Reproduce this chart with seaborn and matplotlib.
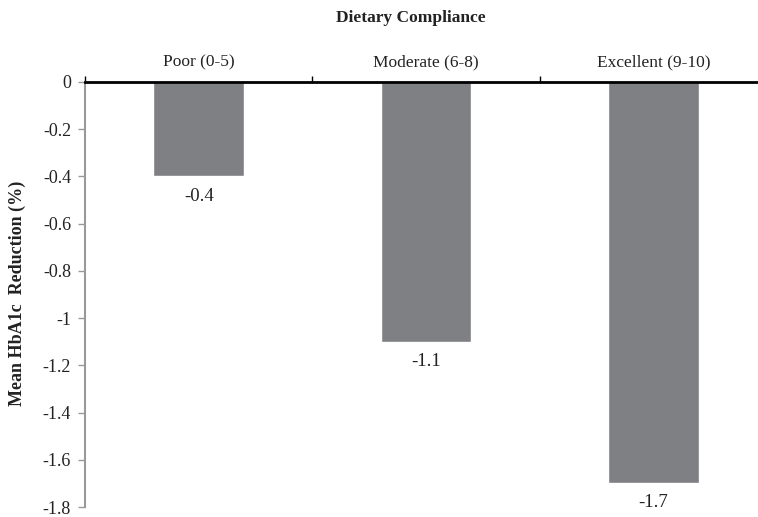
import pandas as pd
import matplotlib
matplotlib.use('Agg')
import matplotlib.pyplot as plt
import seaborn as sns

categories = ['Poor (0-5)', 'Moderate (6-8)', 'Excellent (9-10)']
values = [-0.4, -1.1, -1.7]
value_labels = ['-0.4', '-1.1', '-1.7']
y_ticks = [0, -0.2, -0.4, -0.6, -0.8, -1, -1.2, -1.4, -1.6, -1.8]

sns.set_style('white')
plt.rcParams['font.family'] = ['Liberation Serif', 'DejaVu Serif']

df = pd.DataFrame({'compliance': categories, 'reduction': values})

fig = plt.figure(figsize=(7.58, 5.17), dpi=100)
# axes run slightly past the right edge, as in the original
ax = fig.add_axes([85 / 758, 10 / 517, 682 / 758, 425 / 517])

sns.barplot(data=df, x='compliance', y='reduction', color='#7f8083',
            width=0.4, saturation=1, ax=ax)

ax.set_ylim(-1.8, 0)
ax.set_xlim(-0.5, 2.5)
ax.set_yticks(y_ticks)
ax.set_yticklabels([f'{t:g}' for t in y_ticks], fontsize=13, color='#222222')

# category labels on top, tick marks at boundaries
ax.xaxis.tick_top()
ax.set_xticks([0, 1, 2])
ax.set_xticklabels(categories, fontsize=12.5, color='#222222')
ax.set_xticks([-0.5, 0.5, 1.5, 2.5], minor=True)
ax.tick_params(axis='x', which='major', length=0, pad=8)
ax.tick_params(axis='x', which='minor', top=True, length=4, width=1,
               color='black', direction='out')
ax.tick_params(axis='y', left=True, length=5, width=1, color='#999999',
               direction='out', pad=5)

ax.set_xlabel('')
ax.set_ylabel('')
fig.text(17 / 758, 1 - 293 / 517, 'Mean HbA1c  Reduction (%)', rotation=90,
         ha='center', va='center', fontsize=13, fontweight='bold', color='#222222')

for s in ['right', 'bottom']:
    ax.spines[s].set_visible(False)
ax.spines['left'].set_color('#999999')
ax.spines['left'].set_linewidth(1.5)
ax.spines['top'].set_color('black')
ax.spines['top'].set_linewidth(2)

for i, (v, lab) in enumerate(zip(values, value_labels)):
    ax.annotate(lab, (i, v), xytext=(0, -8), textcoords='offset points',
                ha='center', va='top', fontsize=13.5, color='#222222')

fig.text(411 / 758, 1 - 18 / 517, 'Dietary Compliance', ha='center', va='center',
         fontsize=12.5, fontweight='bold', color='#222222')

fig.savefig('out.png', dpi=100)
